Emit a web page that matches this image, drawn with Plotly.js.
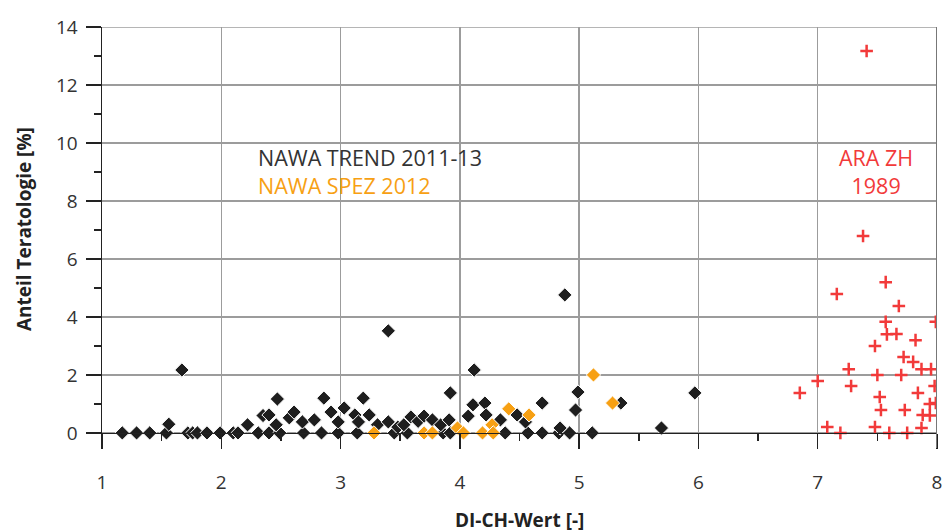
<!DOCTYPE html>
<html>
<head>
<meta charset="utf-8">
<script src="https://cdn.plot.ly/plotly-3.0.1.min.js"></script>
<style>html,body{margin:0;padding:0;background:#fff;}#chart{width:950px;height:532px;}</style>
</head>
<body>
<div id="chart"></div>
<script>
// NAWA TREND 2011-13 (black diamonds)
const trendX = [1.17,1.29,1.40,1.54,1.72,1.76,1.80,1.88,1.99,2.10,2.14,2.31,2.40,2.49,2.69,2.84,2.98,3.14,3.45,3.56,3.86,3.92,4.38,4.57,4.69,4.83,4.92,5.11,
  1.56,1.67,2.22,2.35,2.40,2.47,2.46,2.57,2.61,2.68,2.78,2.86,2.92,2.98,3.03,3.12,3.15,3.19,3.24,3.31,3.40,3.40,3.48,3.53,3.59,3.65,3.70,3.77,3.84,3.91,3.92,4.07,4.11,4.12,4.21,4.22,4.34,4.48,4.55,4.69,4.84,4.88,4.97,4.99,5.35,5.69,5.97];
const trendY = [0,0,0,0,0,0,0,0,0,0,0,0,0,0,0,0,0,0,0,0,0,0,0,0,0,0,0,0,
  0.30,2.17,0.28,0.60,0.62,1.17,0.28,0.52,0.72,0.38,0.45,1.20,0.72,0.38,0.86,0.62,0.38,1.20,0.62,0.28,0.38,3.52,0.20,0.28,0.55,0.40,0.58,0.45,0.28,0.45,1.38,0.58,0.97,2.17,1.03,0.62,0.45,0.62,0.38,1.03,0.17,4.76,0.79,1.41,1.03,0.17,1.38];
// NAWA SPEZ 2012 (orange diamonds)
const spezX = [3.28,3.70,3.77,3.98,4.03,4.19,4.27,4.28,4.41,4.58,5.12,5.28];
const spezY = [0,0,0,0.17,0,0,0.28,0,0.83,0.62,2.00,1.03];
// ARA ZH 1989 (red crosses)
const araX = [7.41,7.38,7.57,7.16,7.68,7.57,7.99,7.66,7.58,7.82,7.48,7.72,7.80,7.26,7.87,7.95,7.50,7.70,7.00,7.28,7.98,6.85,7.84,7.52,7.99,7.94,7.53,7.73,7.88,7.94,7.08,7.48,7.87,7.19,7.60,7.75];
const araY = [13.17,6.79,5.20,4.79,4.38,3.83,3.83,3.41,3.40,3.20,3.00,2.62,2.45,2.20,2.20,2.20,2.00,2.00,1.79,1.62,1.62,1.38,1.38,1.24,1.03,1.00,0.79,0.79,0.62,0.60,0.20,0.20,0.17,0,0,0];
const xTicks = [1,2,3,4,5,6,7,8];
const yTicks = [0,2,4,6,8,10,12,14];

const FONT = "Open Sans, DejaVu Sans, sans-serif";
const BLACK = '#1e1e1e', ORANGE = '#f7a013', RED = '#f23a3a';
const traces = [
  {x: trendX, y: trendY, type: 'scatter', mode: 'markers', name: 'NAWA TREND 2011-13',
   marker: {symbol: 'diamond', size: 11, color: BLACK, line: {color: '#ffffff', width: 1}}},
  {x: spezX, y: spezY, type: 'scatter', mode: 'markers', name: 'NAWA SPEZ 2012',
   marker: {symbol: 'diamond', size: 11, color: ORANGE, line: {color: '#ffffff', width: 1}}},
  {x: araX, y: araY, type: 'scatter', mode: 'markers', name: 'ARA ZH 1989',
   marker: {symbol: 'cross-thin', size: 9, color: RED, line: {color: RED, width: 2.5}}}
];
const yMin = -0.52, yMax = 14;
const layout = {
  width: 950, height: 532,
  margin: {l: 102, r: 13, t: 27, b: 84},
  paper_bgcolor: '#ffffff', plot_bgcolor: '#ffffff',
  showlegend: false,
  font: {family: FONT, size: 19, color: '#333333'},
  xaxis: {
    range: [1, 8], tickvals: xTicks, ticktext: xTicks.map(String),
    anchor: 'free', position: (0 - yMin) / (yMax - yMin),
    showline: true, linecolor: '#222222', linewidth: 1.5,
    ticks: 'outside', ticklen: 15, tickwidth: 1.5, tickcolor: '#222222',
    minor: {dtick: 0.5, tick0: 0, ticks: 'outside', ticklen: 7, tickwidth: 1.5, tickcolor: '#222222', showgrid: false},
    showgrid: true, gridcolor: '#9c9c9c', gridwidth: 1.3, zeroline: false,
    ticklabelstandoff: 17,
    tickfont: {family: FONT, size: 19, color: '#333333'}
  },
  yaxis: {
    range: [yMin, yMax], tickvals: yTicks, ticktext: yTicks.map(String),
    showline: true, linecolor: '#222222', linewidth: 1.5,
    ticks: 'outside', ticklen: 15, tickwidth: 1.5, tickcolor: '#222222',
    minor: {dtick: 1, tick0: 0, ticks: 'outside', ticklen: 7, tickwidth: 1.5, tickcolor: '#222222', showgrid: false},
    showgrid: true, gridcolor: '#9c9c9c', gridwidth: 1.3, zeroline: false,
    ticklabelstandoff: 4,
    tickfont: {family: FONT, size: 19, color: '#333333'}
  },
  shapes: [
    {type: 'line', xref: 'x', yref: 'y', x0: 1, x1: 8, y0: 14, y1: 14, line: {color: '#9c9c9c', width: 1.3}},
    {type: 'line', xref: 'x', yref: 'y', x0: 8, x1: 8, y0: yMin, y1: 14, line: {color: '#777777', width: 2}}
  ],
  annotations: [
    {xref: 'x', yref: 'y', x: 2.29, y: 9.02, xanchor: 'left', yanchor: 'middle', align: 'left', showarrow: false,
     text: 'NAWA TREND 2011-13<br><span style="color:' + ORANGE + '">NAWA SPEZ 2012</span>',
     font: {family: FONT, size: 21.5, color: '#333333'}},
    {xref: 'x', yref: 'y', x: 7.49, y: 9.02, xanchor: 'center', yanchor: 'middle', align: 'center', showarrow: false,
     text: 'ARA ZH<br>1989', font: {family: FONT, size: 21.5, color: RED}},
    {xref: 'paper', yref: 'paper', x: 0.5, y: 0, xanchor: 'center', yanchor: 'middle', yshift: -72, showarrow: false,
     text: '<b>DI-CH-Wert [-]</b>', font: {family: FONT, size: 19, color: '#222222'}},
    {xref: 'paper', yref: 'paper', x: 0, y: 0.52, xanchor: 'center', yanchor: 'middle', xshift: -78, textangle: -90, showarrow: false,
     text: '<b>Anteil Teratologie [%]</b>', font: {family: FONT, size: 19, color: '#222222'}}
  ]
};
Plotly.newPlot('chart', traces, layout, {staticPlot: true, displayModeBar: false});
</script>
</body>
</html>
